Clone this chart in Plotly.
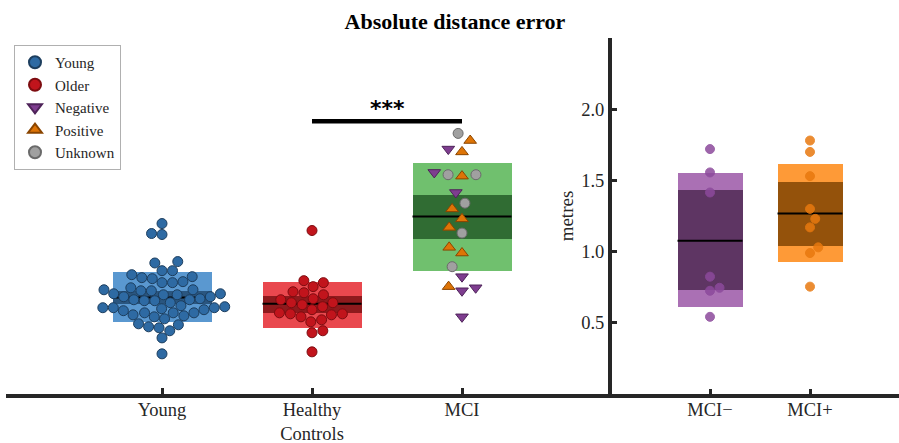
import math
import plotly.graph_objects as go

# ---------------- data (metres) ----------------
left_groups = ["Young", "Healthy<br>Controls", "MCI"]
right_groups = ["MCI\u2212", "MCI+"]

young = [1.197, 1.127, 1.12, 0.92, 0.93, 0.866, 0.866, 0.817, 0.838, 0.824, 0.782, 0.789,
         0.81, 0.782, 0.746, 0.732, 0.725, 0.732, 0.725, 0.704, 0.697, 0.704, 0.697, 0.683,
         0.683, 0.669, 0.662, 0.662, 0.655, 0.641, 0.655, 0.613, 0.606, 0.592, 0.606, 0.62,
         0.606, 0.599, 0.570, 0.570, 0.570, 0.556, 0.585, 0.549, 0.528, 0.542, 0.493, 0.472,
         0.486, 0.465, 0.444, 0.394, 0.282]
older = [1.148, 0.796, 0.754, 0.782, 0.718, 0.711, 0.697, 0.641, 0.662, 0.669, 0.641, 0.627,
         0.613, 0.592, 0.563, 0.542, 0.556, 0.570, 0.563, 0.521, 0.507, 0.444, 0.430, 0.296]
mci_neg = [1.72, 1.556, 1.415, 0.824, 0.746, 0.725, 0.542]
mci_pos = [1.78, 1.70, 1.53, 1.30, 1.23, 1.17, 1.03, 0.99, 0.754]
mci_unk = [1.83, 1.54, 1.54, 1.34, 1.13, 0.894]

# box summaries: mean, inner band, outer band
left_mean = [0.678, 0.634, 1.246]
left_inner_lo = [0.634, 0.570, 1.092]
left_inner_hi = [0.725, 0.690, 1.401]
left_outer_lo = [0.507, 0.465, 0.866]
left_outer_hi = [0.859, 0.789, 1.620]

right_mean = [1.077, 1.268]
right_inner_lo = [0.732, 1.042]
right_inner_hi = [1.430, 1.486]
right_outer_lo = [0.613, 0.930]
right_outer_hi = [1.549, 1.613]

sig_pair = (1, 2)  # Healthy Controls vs MCI
sig_label = "***"

# ---------------- styling ----------------
W, H = 899, 443
SERIF = "Liberation Serif, Times New Roman, serif"
AX = "#262626"
YS = 142.0          # px per metre
XS_L, XS_R = 150.0, 100.0

left_light = ["#5a98d0", "#e9484e", "#70c06e"]
left_dark = ["#2a5680", "#8e1a1d", "#306c33"]
right_light = ["#aa70b4", "#fe9a37"]
right_dark = ["#5e3563", "#94520b"]
right_pt = ["#8c4a9c", "#e8790f"]


def swarm(vals, xscale, D):
    """Classic beeswarm offsets (data units) so markers do not overlap."""
    order = sorted(range(len(vals)), key=lambda i: vals[i])
    placed = []
    offs = [0.0] * len(vals)
    flip = 1
    for i in order:
        y = vals[i] * YS
        cands = [0.0]
        for px, py in placed:
            dy = y - py
            if abs(dy) < D:
                dx = math.sqrt(D * D - dy * dy)
                cands += [px + dx, px - dx]
        cands.sort(key=lambda c: (abs(c), -flip * c))
        for c in cands:
            if all((c - px) ** 2 + (y - py) ** 2 >= D * D - 1e-6 for px, py in placed):
                placed.append((c, y))
                offs[i] = c / xscale
                break
        flip = -flip
    return offs


fig = go.Figure()

# boxes (left)
lpos = [1, 2, 3]
BW_L = 0.66
for k, p in enumerate(lpos):
    fig.add_trace(go.Bar(x=[p], y=[left_outer_hi[k] - left_outer_lo[k]], base=[left_outer_lo[k]],
                         width=BW_L, marker=dict(color=left_light[k], line=dict(width=0)),
                         showlegend=False, hoverinfo="skip", xaxis="x", yaxis="y"))
    fig.add_trace(go.Bar(x=[p], y=[left_inner_hi[k] - left_inner_lo[k]], base=[left_inner_lo[k]],
                         width=BW_L, marker=dict(color=left_dark[k], line=dict(width=0)),
                         showlegend=False, hoverinfo="skip", xaxis="x", yaxis="y"))
    fig.add_trace(go.Scatter(x=[p - BW_L / 2, p + BW_L / 2], y=[left_mean[k]] * 2, mode="lines",
                             line=dict(color="black", width=2), showlegend=False,
                             hoverinfo="skip", xaxis="x", yaxis="y"))

# boxes (right)
rpos = [1, 2]
BW_R = 0.65
for k, p in enumerate(rpos):
    fig.add_trace(go.Bar(x=[p], y=[right_outer_hi[k] - right_outer_lo[k]], base=[right_outer_lo[k]],
                         width=BW_R, marker=dict(color=right_light[k], line=dict(width=0)),
                         showlegend=False, hoverinfo="skip", xaxis="x2", yaxis="y2"))
    fig.add_trace(go.Bar(x=[p], y=[right_inner_hi[k] - right_inner_lo[k]], base=[right_inner_lo[k]],
                         width=BW_R, marker=dict(color=right_dark[k], line=dict(width=0)),
                         showlegend=False, hoverinfo="skip", xaxis="x2", yaxis="y2"))
    fig.add_trace(go.Scatter(x=[p - BW_R / 2, p + BW_R / 2], y=[right_mean[k]] * 2, mode="lines",
                             line=dict(color="black", width=2), showlegend=False,
                             hoverinfo="skip", xaxis="x2", yaxis="y2"))

# points (left)
oy = swarm(young, XS_L, 10.5)
oo = swarm(older, XS_L, 11)
mci_all = mci_neg + mci_pos + mci_unk
om = swarm(mci_all, XS_L, 14)
n1, n2 = len(mci_neg), len(mci_neg) + len(mci_pos)

fig.add_trace(go.Scatter(x=[1 + o for o in oy], y=young, mode="markers", name="Young",
                         marker=dict(symbol="circle", size=10, color="#2e6aa3",
                                     line=dict(color="#1d3e5e", width=1)),
                         xaxis="x", yaxis="y"))
fig.add_trace(go.Scatter(x=[2 + o for o in oo], y=older, mode="markers", name="Older",
                         marker=dict(symbol="circle", size=10, color="#c1141c",
                                     line=dict(color="#7d0c10", width=1)),
                         xaxis="x", yaxis="y"))
fig.add_trace(go.Scatter(x=[3 + o for o in om[:n1]], y=mci_neg, mode="markers", name="Negative",
                         marker=dict(symbol="triangle-down", size=11, color="#7e3d8f",
                                     line=dict(color="#4e2359", width=1)),
                         xaxis="x", yaxis="y"))
fig.add_trace(go.Scatter(x=[3 + o for o in om[n1:n2]], y=mci_pos, mode="markers", name="Positive",
                         marker=dict(symbol="triangle-up", size=11, color="#de7406",
                                     line=dict(color="#8a4500", width=1)),
                         xaxis="x", yaxis="y"))
fig.add_trace(go.Scatter(x=[3 + o for o in om[n2:]], y=mci_unk, mode="markers", name="Unknown",
                         marker=dict(symbol="circle", size=10, color="#a0a0a0",
                                     line=dict(color="#6a6a6a", width=1)),
                         xaxis="x", yaxis="y"))

# points (right)
for k, vals in enumerate([mci_neg, mci_pos]):
    offs = swarm(vals, XS_R, 10)
    fig.add_trace(go.Scatter(x=[rpos[k] + o for o in offs], y=vals, mode="markers",
                             marker=dict(symbol="circle", size=9, color=right_pt[k], opacity=0.85,
                                         line=dict(color=right_pt[k], width=1)),
                             showlegend=False, xaxis="x2", yaxis="y2"))

# significance bar
groups_vals = [young, older, mci_all]
sig_y = max(max(groups_vals[sig_pair[0]]), max(groups_vals[sig_pair[1]])) + 0.085
xa, xb = lpos[sig_pair[0]], lpos[sig_pair[1]]
fig.add_trace(go.Scatter(x=[xa, xb], y=[sig_y, sig_y], mode="lines",
                         line=dict(color="black", width=4.5), showlegend=False,
                         hoverinfo="skip", xaxis="x", yaxis="y"))
fig.add_annotation(x=(xa + xb) / 2, y=sig_y, xref="x", yref="y", text="<b>" + sig_label + "</b>",
                   showarrow=False, yanchor="middle", yshift=13,
                   font=dict(family="DejaVu Sans", size=22, color="black"))

# ---------------- layout ----------------
ydom = [(H - 394) / H, (H - 38) / H]
xl0, xsplit = 6 / W, 612 / W

fig.update_layout(
    width=W, height=H,
    margin=dict(l=0, r=0, t=0, b=0),
    paper_bgcolor="white", plot_bgcolor="white",
    barmode="overlay", bargap=0,
    font=dict(family=SERIF, color=AX),
    title=dict(text="<b>Absolute distance error</b>", x=455 / W, xanchor="center",
               y=(H - 21) / H, yanchor="middle",
               font=dict(family=SERIF, size=22, color="black")),
    legend=dict(x=14 / W, y=(H - 45) / H, xanchor="left", yanchor="top",
                bgcolor="white", bordercolor="#b0b0b0", borderwidth=1,
                font=dict(family=SERIF, size=15, color="#262626"),
                itemwidth=30, tracegroupgap=0, itemsizing="constant"),
    xaxis=dict(domain=[xl0, xsplit], range=[-0.04, 4.0], anchor="y",
               tickvals=lpos, ticktext=left_groups,
               showline=True, linewidth=4, linecolor=AX, mirror=False,
               ticks="inside", ticklen=6, tickwidth=3, tickcolor=AX, ticklabelstandoff=-4,
               tickfont=dict(family=SERIF, size=18.5, color=AX),
               showgrid=False, zeroline=False, automargin=False, fixedrange=True),
    yaxis=dict(domain=ydom, range=[0, 2.5], anchor="x", visible=False,
               showgrid=False, zeroline=False, fixedrange=True),
    xaxis2=dict(domain=[xsplit, 1.0], range=[0.02, 2.89], anchor="y2",
                tickvals=rpos, ticktext=right_groups,
                showline=True, linewidth=4, linecolor=AX,
                ticks="inside", ticklen=5, tickwidth=3, tickcolor=AX, ticklabelstandoff=-4,
                tickfont=dict(family=SERIF, size=18.5, color=AX),
                showgrid=False, zeroline=False, automargin=False, fixedrange=True),
    yaxis2=dict(domain=ydom, range=[0, 2.5], anchor="x2",
                tickvals=[0.5, 1.0, 1.5, 2.0], ticktext=["0.5", "1.0", "1.5", "2.0"],
                showline=True, linewidth=4, linecolor=AX,
                ticks="inside", ticklen=5, tickwidth=3, tickcolor=AX,
                tickfont=dict(family=SERIF, size=18.5, color=AX),
                title=dict(text="metres", standoff=4, font=dict(family=SERIF, size=19, color=AX)),
                showgrid=False, zeroline=False, automargin=False, fixedrange=True),
)

fig.write_html("out.html", config={"displayModeBar": False},
               post_script="document.body.style.margin='0';")
